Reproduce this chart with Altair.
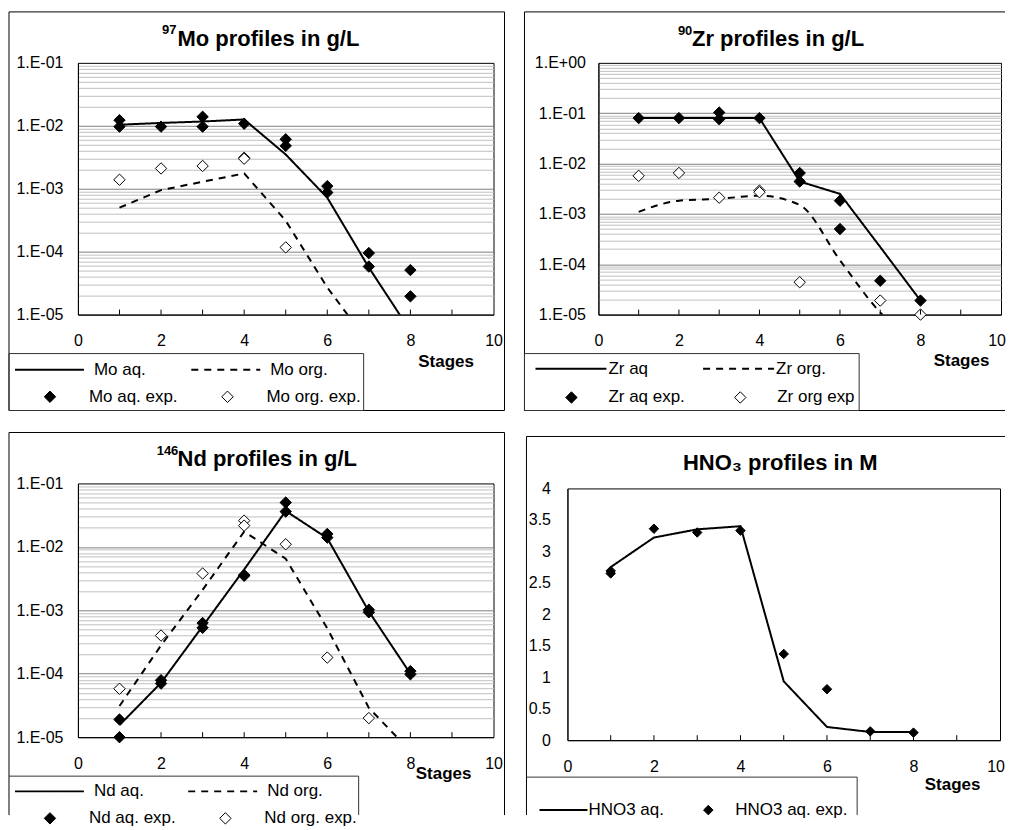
import altair as alt
import pandas as pd

FONT = "Liberation Sans"

# ---------------- shared categories ----------------
inner_tick_stages = [1, 2, 3, 4, 5, 6, 7, 8, 9]
x_tick_labels = [0, 2, 4, 6, 8, 10]
hno3_y_ticks = [0, 0.5, 1, 1.5, 2, 2.5, 3, 3.5, 4]

# ---------------- 97Mo ----------------
mo_names = ["Mo aq.", "Mo org.", "Mo aq. exp.", "Mo org. exp."]
mo_aq_stages = [1, 2, 3, 4, 5, 6, 7, 8]
mo_aq = [0.0104, 0.0111, 0.0117, 0.0126, 0.0035, 0.00072, 5.6e-5, 5.5e-6]
mo_org_stages = [1, 2, 3, 4, 5, 6, 7]
mo_org = [5.0e-4, 9.5e-4, 1.29e-3, 1.75e-3, 3.1e-4, 2.7e-5, 3.5e-6]
mo_aq_exp_stages = [1, 1, 2, 3, 3, 4, 5, 5, 6, 6, 7, 7, 8, 8]
mo_aq_exp = [0.0123, 0.0097, 0.0097, 0.0139, 0.0097, 0.0108, 0.0061, 0.0048,
             0.0011, 0.00087, 9.5e-5, 5.8e-5, 5.1e-5, 1.95e-5]
mo_org_exp_stages = [1, 2, 3, 4, 4, 5]
mo_org_exp = [1.39e-3, 2.1e-3, 2.3e-3, 3.1e-3, 3.0e-3, 1.17e-4]

# ---------------- 90Zr ----------------
zr_names = ["Zr aq", "Zr org.", "Zr aq exp.", "Zr org exp"]
zr_aq_stages = [1, 2, 3, 4, 5, 6, 7, 8]
zr_aq = [0.08, 0.08, 0.08, 0.08, 0.0044, 0.0025, 2.2e-4, 1.9e-5]
zr_org_stages = [1, 2, 3, 4, 5, 6, 7, 8]
zr_org = [1.1e-3, 1.83e-3, 2.0e-3, 2.3e-3, 1.5e-3, 1.2e-4, 1.1e-5, 2.3e-6]
zr_aq_exp_stages = [1, 2, 3, 3, 4, 5, 5, 6, 6, 7, 8]
zr_aq_exp = [0.08, 0.08, 0.103, 0.076, 0.08, 6.5e-3, 4.4e-3, 1.83e-3, 5.0e-4, 4.7e-5, 1.9e-5]
zr_org_exp_stages = [1, 2, 3, 4, 4, 5, 7, 8]
zr_org_exp = [5.7e-3, 6.5e-3, 2.1e-3, 2.9e-3, 2.7e-3, 4.4e-5, 1.9e-5, 1.0e-5]

# ---------------- 146Nd ----------------
nd_names = ["Nd aq.", "Nd org.", "Nd aq. exp.", "Nd org. exp."]
nd_aq_stages = [1, 2, 3, 4, 5, 6, 7, 8]
nd_aq = [1.55e-5, 7.2e-5, 5.6e-4, 4.4e-3, 0.0368, 0.0137, 9.6e-4, 1.0e-4]
nd_org_stages = [1, 2, 3, 4, 5, 6, 7, 8]
nd_org = [3.1e-5, 2.8e-4, 2.1e-3, 0.0174, 6.5e-3, 5.2e-4, 2.9e-5, 6.0e-6]
nd_aq_exp_stages = [1, 1, 2, 2, 3, 3, 4, 4, 5, 5, 6, 6, 7, 7, 8, 8]
nd_aq_exp = [1.9e-5, 1.0e-5, 7.9e-5, 7.0e-5, 6.3e-4, 5.3e-4, 3.6e-3, 3.5e-3,
             0.050, 0.036, 0.016, 0.014, 1.02e-3, 9.3e-4, 1.1e-4, 9.8e-5]
nd_org_exp_stages = [1, 2, 3, 4, 4, 5, 6, 7]
nd_org_exp = [5.8e-5, 4.0e-4, 3.8e-3, 0.0259, 0.0216, 0.011, 1.8e-4, 2.0e-5]

# ---------------- HNO3 ----------------
hno3_names = ["HNO3 aq.", "HNO3 aq. exp."]
hno3_stages = [1, 2, 3, 4, 5, 6, 7, 8]
hno3_aq = [2.75, 3.22, 3.35, 3.40, 0.935, 0.21, 0.13, 0.13]
hno3_exp_stages = [1, 1, 2, 3, 4, 5, 6, 7, 8]
hno3_exp = [2.69, 2.65, 3.36, 3.30, 3.33, 1.37, 0.81, 0.14, 0.12]


def df(name, xs, ys):
    return pd.DataFrame({"stage": xs, "value": ys, "series": name})


def log_axis(lo, hi, pad):
    vals = [m * 10.0 ** e for e in range(lo, hi) for m in range(1, 10)] + [10.0 ** hi]
    e = "round(log(datum.value)/LN10)"
    major = f"abs(log(datum.value)/LN10 - {e}) < 0.001"
    label = (f"{major} ? '1.E' + ({e} < 0 ? '-' : '+') + "
             f"(abs({e}) < 10 ? '0' : '') + abs({e}) : ''")
    edge = f"datum.value < {10.0 ** lo * 1.001} || datum.value > {10.0 ** hi * 0.999}"
    return alt.Axis(values=vals, labelExpr=label, ticks=False, tickSize=0,
                    labelPadding=pad, labelFont=FONT, labelFontSize=16,
                    labelColor="black", labelOverlap=False, labelFlush=False,
                    grid=True,
                    gridColor={"condition": {"test": major, "value": "#808080"},
                               "value": "#c0c0c0"},
                    gridOpacity={"condition": {"test": edge, "value": 0}, "value": 1},
                    gridWidth=1, domain=True, domainColor="black", title=None)


ONE = pd.DataFrame({"k": [0]})


def seg(x0, y0, x1, y1, color="black"):
    return alt.Chart(ONE).mark_rule(color=color, strokeWidth=1).encode(
        x=alt.value(x0), x2=alt.value(x1), y=alt.value(y0), y2=alt.value(y1))


def panel(c):
    W, H = c["W"], c["H"]
    xscale = alt.Scale(domain=[0, 10], nice=False, zero=False)
    flush = c.get("flush", 0)
    xaxis = alt.Axis(values=x_tick_labels, labelFont=FONT, labelFontSize=16,
                     labelColor="black", labelPadding=26, labelBaseline="middle",
                     labelFlush=bool(flush), labelFlushOffset=flush,
                     labelOverlap=False, ticks=False, tickSize=0,
                     grid=False, domain=True, domainColor="black",
                     title="Stages", titleFont=FONT, titleFontSize=17,
                     titleFontWeight="bold", titleColor="black",
                     titleX=c["tx"], titleY=c["ty"], titleAlign="center",
                     titleBaseline="middle")

    def X():
        return alt.X("stage:Q", scale=xscale, axis=xaxis)

    def Y():
        return alt.Y("value:Q", scale=c["yscale"], axis=c["yaxis"])

    layers = [seg(*s) for s in c["frame"]]
    layers += [seg(*s, color="#333333") for s in c["lbox"]]

    line_leg = dict(orient="none", title=None, padding=0, symbolType="stroke",
                    symbolStrokeWidth=2, symbolStrokeColor="black",
                    labelFont=FONT, labelFontSize=17, labelColor="black",
                    labelLimit=300)
    line_leg.update(c["line_leg"])
    dash = alt.StrokeDash("series:N",
                          scale=alt.Scale(domain=c["line_names"], range=c["line_dashes"]),
                          legend=alt.Legend(**line_leg))
    for d, interp in c["lines"]:
        layers.append(alt.Chart(d).mark_line(color="black", strokeWidth=2, clip=True,
                                             interpolate=interp).encode(
            x=X(), y=Y(), strokeDash=dash))

    pt_leg = dict(orient="none", title=None, padding=0, symbolType="diamond",
                  symbolStrokeWidth=1, symbolStrokeColor="black",
                  labelFont=FONT, labelFontSize=17, labelColor="black",
                  labelLimit=300)
    pt_leg.update(c["pt_leg"])
    layers.append(alt.Chart(c["points"]).mark_point(
        shape="diamond", filled=True, stroke="black", strokeWidth=1,
        size=c["psize"], opacity=1).encode(
        x=X(), y=Y(),
        fill=alt.Fill("series:N",
                      scale=alt.Scale(domain=c["pt_names"], range=c["pt_fills"]),
                      legend=alt.Legend(**pt_leg))))

    layers.append(alt.Chart(pd.DataFrame({"stage": inner_tick_stages})).mark_rule(
        color="black", strokeWidth=1).encode(x=X(), y=alt.value(H), y2=alt.value(H - 5)))

    if "sup" in c:
        stext, sx, sy = c["sup"]
        layers.append(alt.Chart(ONE).mark_text(
            text=stext, font=FONT, fontSize=13, fontWeight="bold", color="black",
            align="right", baseline="alphabetic").encode(x=alt.value(sx), y=alt.value(sy)))

    title = alt.Title(c["title"], font=FONT, fontSize=22, fontWeight="bold", color="black",
                      anchor=c.get("anchor", "middle"), frame="group",
                      baseline="alphabetic", offset=0, dx=c["tdx"], dy=c["tdy"])
    return alt.layer(*layers).properties(width=W, height=H, title=title)


def rect(x0, y0, x1, y1):
    return [(x0, y0, x1, y0), (x0, y1, x1, y1), (x0, y0, x0, y1), (x1, y0, x1, y1)]


mo = panel(dict(
    W=416, H=252,
    yscale=alt.Scale(type="log", domain=[1e-5, 1e-1], nice=False),
    yaxis=log_axis(-5, -1, 15),
    tx=368, ty=46.5,
    frame=rect(-69, -51, 427, 348), lbox=rect(-69, 291, 286, 348),
    title="Mo profiles in g/L", anchor="start", tdx=99.7, tdy=57.1,
    sup=("97", 98.7, -28.5),
    line_names=mo_names[:2], line_dashes=[[1, 0], [7, 6]],
    lines=[(pd.concat([df(mo_names[0], mo_aq_stages, mo_aq),
                       df(mo_names[1], mo_org_stages, mo_org)]), "linear")],
    line_leg=dict(legendX=-64, legendY=271.5, columns=2, columnPadding=41.5,
                  labelOffset=9, symbolSize=4761),
    points=pd.concat([df(mo_names[2], mo_aq_exp_stages, mo_aq_exp),
                      df(mo_names[3], mo_org_exp_stages, mo_org_exp)]),
    pt_names=mo_names[2:], pt_fills=["black", "white"], psize=130,
    pt_leg=dict(legendX=-36.5, legendY=325.5, columns=2, columnPadding=40.7,
                labelOffset=30.5, symbolSize=130),
))

zr = panel(dict(
    W=403, H=252, flush=4.5,
    yscale=alt.Scale(type="log", domain=[1e-5, 1], nice=False),
    yaxis=log_axis(-5, 0, 13),
    tx=363, ty=46,
    frame=[(-74, -51, 407, -51), (-74, 348, 407, 348), (-74, -51, -74, 348)],
    lbox=rect(-74, 291, 261, 348),
    title="Zr profiles in g/L", anchor="start", tdx=93.7, tdy=56.5,
    sup=("90", 94, -27.5),
    line_names=zr_names[:2], line_dashes=[[1, 0], [7, 6]],
    lines=[(df(zr_names[0], zr_aq_stages, zr_aq), "linear"),
           (df(zr_names[1], zr_org_stages, zr_org), "monotone")],
    line_leg=dict(legendX=-64, legendY=269.5, columns=2, columnPadding=50.8,
                  labelOffset=1, symbolSize=5041),
    points=pd.concat([df(zr_names[2], zr_aq_exp_stages, zr_aq_exp),
                      df(zr_names[3], zr_org_exp_stages, zr_org_exp)]),
    pt_names=zr_names[2:], pt_fills=["black", "white"], psize=130,
    pt_leg=dict(legendX=-35.5, legendY=326.2, columns=2, columnPadding=46,
                labelOffset=28.5, symbolSize=130),
))

nd = panel(dict(
    W=416, H=254,
    yscale=alt.Scale(type="log", domain=[1e-5, 1e-1], nice=False),
    yaxis=log_axis(-5, -1, 15),
    tx=365.5, ty=36,
    frame=[(-69, -51, 427, -51), (-69, -51, -69, 332), (427, -51, 427, 332)],
    lbox=[(-69, 293, 281, 293), (281, 293, 281, 332)],
    title="Nd profiles in g/L", anchor="start", tdx=99.7, tdy=56.5,
    sup=("146", 100.5, -28),
    line_names=nd_names[:2], line_dashes=[[1, 0], [7, 6]],
    lines=[(pd.concat([df(nd_names[0], nd_aq_stages, nd_aq),
                       df(nd_names[1], nd_org_stages, nd_org)]), "linear")],
    line_leg=dict(legendX=-64, legendY=272.5, columns=2, columnPadding=39.4,
                  labelOffset=9, symbolSize=4761),
    points=pd.concat([df(nd_names[2], nd_aq_exp_stages, nd_aq_exp),
                      df(nd_names[3], nd_org_exp_stages, nd_org_exp)]),
    pt_names=nd_names[2:], pt_fills=["black", "white"], psize=130,
    pt_leg=dict(legendX=-36.5, legendY=326.5, columns=2, columnPadding=40.6,
                labelOffset=30.5, symbolSize=130),
))

hno3 = panel(dict(
    W=433, H=252, flush=4.5,
    yscale=alt.Scale(domain=[0, 4], nice=False, zero=False),
    yaxis=alt.Axis(values=hno3_y_ticks, format="~g", ticks=False, tickSize=0,
                   labelPadding=17, labelFont=FONT, labelFontSize=16,
                   labelColor="black", labelOverlap=False, labelFlush=False,
                   grid=False, domain=True, domainColor="black", title=None),
    tx=385, ty=44,
    frame=[(-41, -52, 438, -52), (-41, -52, -41, 327)],
    lbox=[(-41, 289, 290, 289), (290, 289, 290, 327)],
    title="HNO\u2083 profiles in M", tdx=-3.5, tdy=55.8,
    line_names=hno3_names[:1], line_dashes=[[1, 0]],
    lines=[(df(hno3_names[0], hno3_stages, hno3_aq), "linear")],
    line_leg=dict(legendX=-29, legendY=297, labelOffset=0, symbolSize=2304),
    points=df(hno3_names[1], hno3_exp_stages, hno3_exp),
    pt_names=hno3_names[1:], pt_fills=["black"], psize=90,
    pt_leg=dict(legendX=132.5, legendY=313.5, labelOffset=18.5, symbolSize=90),
))

spacer = alt.Chart(pd.DataFrame({"k": []})).mark_point().properties(
    width=10, height=1, view=alt.ViewBackground(stroke="transparent"))


def indep(ch):
    return ch.resolve_scale(x="independent", y="independent",
                            strokeDash="independent", fill="independent").resolve_legend(
        strokeDash="independent", fill="independent")


row1 = indep(alt.hconcat(mo, zr, spacing=105, bounds="flush"))
col4 = indep(alt.vconcat(spacer, hno3, spacing=4, bounds="flush"))
row2 = indep(alt.hconcat(nd, col4, spacing=74, bounds="flush"))

chart = indep(alt.vconcat(row1, row2, spacing=20, bounds="full")).properties(
    padding={"left": 0, "top": 2.5, "right": 0, "bottom": 0}
).configure(font=FONT).configure_view(stroke="black", strokeWidth=1)

chart.save("out.html", embed_options={"renderer": "svg", "actions": False})
